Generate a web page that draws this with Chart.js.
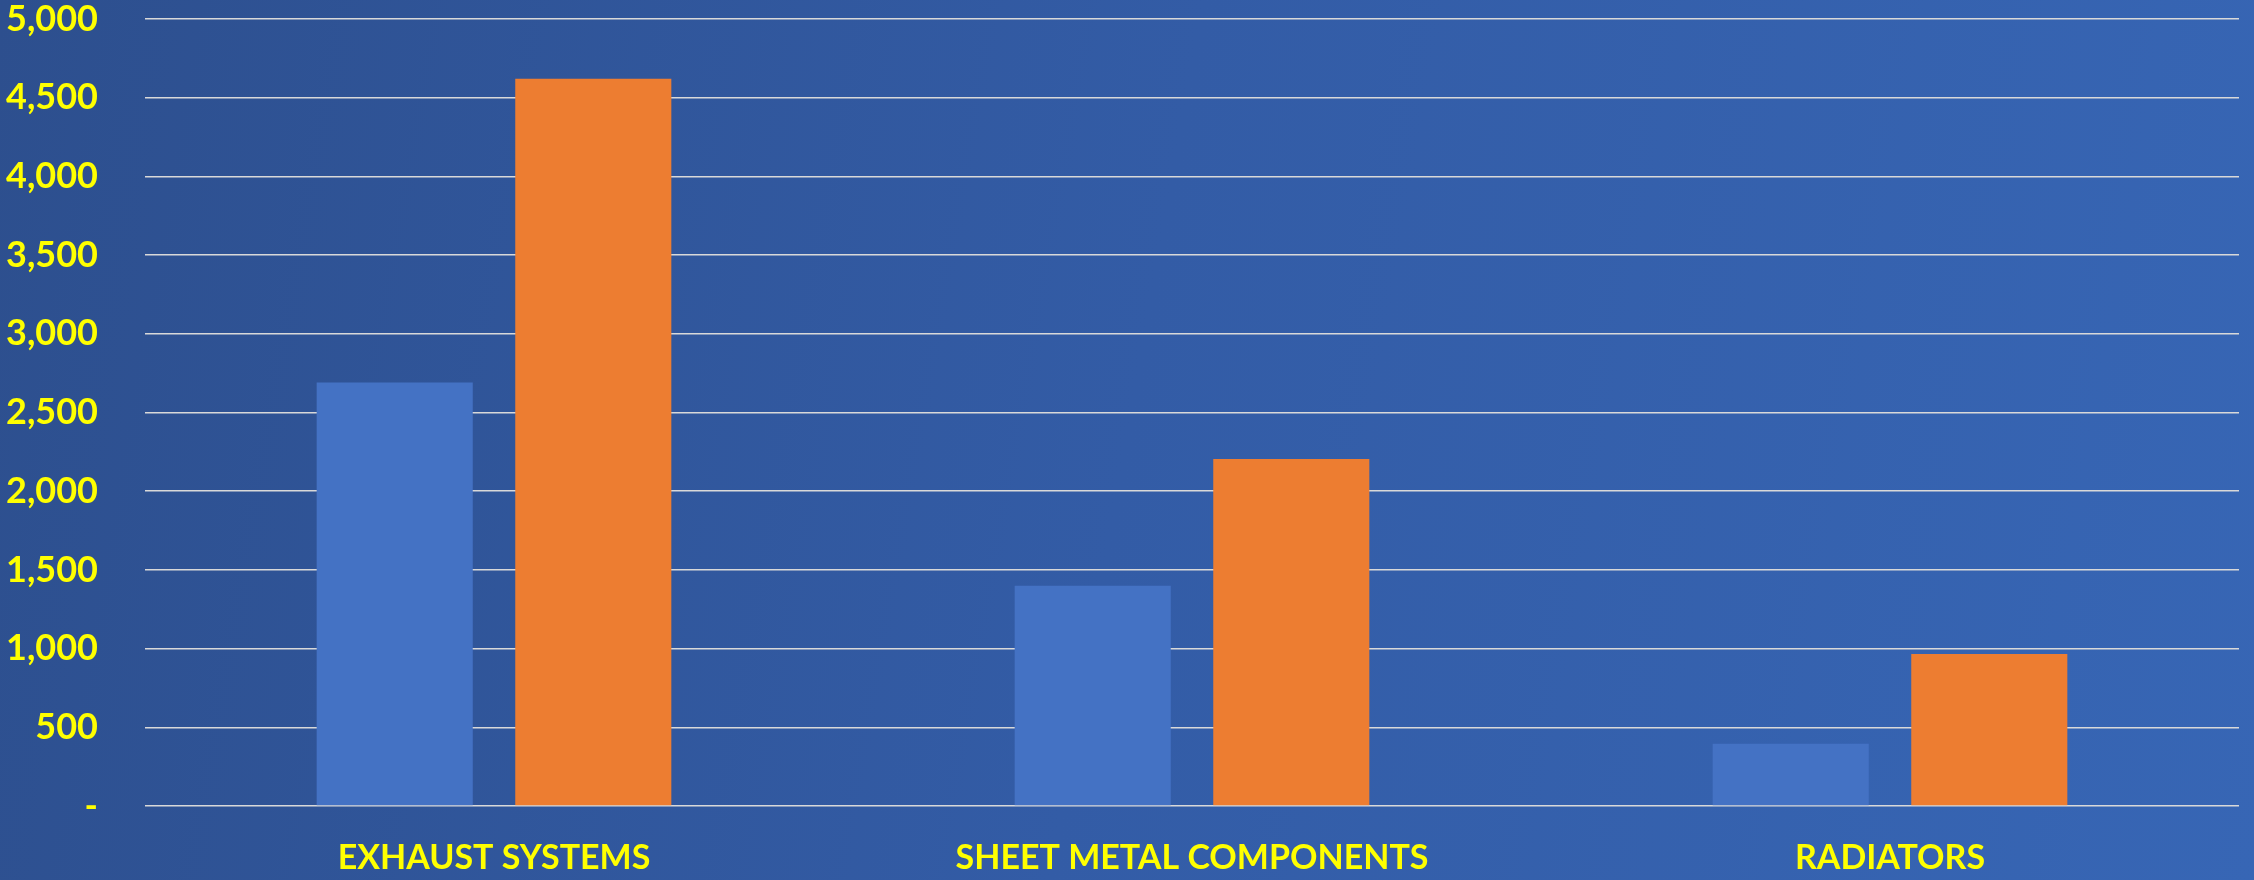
<!DOCTYPE html>
<html>
<head>
<meta charset="utf-8">
<title>Chart</title>
<script src="https://cdn.jsdelivr.net/npm/chart.js@4/dist/chart.umd.min.js"></script>
<style>
    html, body {
        margin: 0;
        padding: 0;
        width: 2254px;
        height: 880px;
        overflow: hidden;
    }
    body {
        background: linear-gradient(100deg, #2D4F8E 0%, #335CA6 50%, #3766B5 100%);
    }
    #chart-wrap {
        position: relative;
        width: 2254px;
        height: 880px;
    }
</style>
</head>
<body>
<div id="chart-wrap"><canvas id="chart"></canvas></div>
<script>
// Chart values
const categories = ['EXHAUST SYSTEMS', 'SHEET METAL COMPONENTS', 'RADIATORS'];
const seriesBlue = [2690, 1400, 395];
const seriesOrange = [4620, 2205, 965];
const yTickValues = [0, 500, 1000, 1500, 2000, 2500, 3000, 3500, 4000, 4500, 5000];

const YELLOW = '#FFFF00';
const GRID = '#D9D9D9';
const FONT = 'Lato, "Open Sans", sans-serif';

const canvas = document.getElementById('chart');

new Chart(canvas, {
    type: 'bar',
    data: {
        labels: categories,
        datasets: [
            {
                label: 'Series 1',
                data: seriesBlue,
                backgroundColor: '#4472C4',
                borderWidth: 0
            },
            {
                label: 'Series 2',
                data: seriesOrange,
                backgroundColor: '#ED7D31',
                borderWidth: 0
            }
        ]
    },
    options: {
        responsive: true,
        maintainAspectRatio: false,
        animation: false,
        datasets: {
            bar: {
                categoryPercentage: 0.569,
                barPercentage: 0.786
            }
        },
        layout: {
            padding: { top: 19, right: 15, left: 0, bottom: 0 }
        },
        plugins: {
            legend: { display: false },
            title: { display: false },
            tooltip: { enabled: false }
        },
        scales: {
            x: {
                grid: { display: false, drawTicks: false },
                border: { display: false },
                ticks: {
                    color: YELLOW,
                    padding: 35,
                    maxRotation: 0,
                    font: { family: FONT, size: 34, weight: 'bold', lineHeight: 1 }
                },
                afterFit(scale) {
                    scale.height = 74;
                    scale.paddingLeft = 0;
                    scale.paddingRight = 0;
                }
            },
            y: {
                min: 0,
                max: 5000,
                afterBuildTicks(scale) {
                    scale.ticks = yTickValues.map(v => ({ value: v }));
                },
                grid: {
                    color: GRID,
                    lineWidth: 1.6,
                    drawTicks: false
                },
                border: { display: false },
                ticks: {
                    color: YELLOW,
                    padding: 47,
                    font: { family: FONT, size: 36, weight: 'bold', lineHeight: 1 },
                    callback: (value) => value === 0 ? '-' : value.toLocaleString('en-US')
                },
                afterFit(scale) {
                    scale.width = 145;
                    scale.paddingTop = 0;
                    scale.paddingBottom = 0;
                }
            }
        }
    }
});
</script>
</body>
</html>
